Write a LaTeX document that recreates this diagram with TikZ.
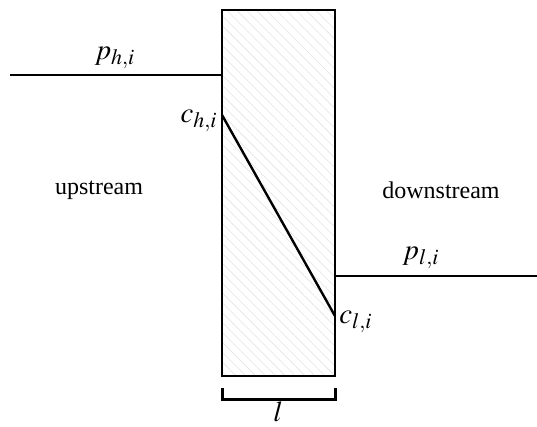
\documentclass[tikz,border=0pt,12pt]{standalone}
\usepackage{mathptmx}
\usepackage{fontspec}
\setmainfont{Liberation Serif}
\usepackage{tikz}
\usetikzlibrary{patterns.meta, positioning}

\tikzset{
    flow/.style={line width=1.2pt},
    wall/.style={draw, line width=0.6pt, pattern={Lines[angle=-45, distance=3.5pt, line width=0.3pt]}, pattern color=gray!22},
    qty/.style={font=\large},
}

\begin{document}
\begin{tikzpicture}[x=0.5pt, y=-0.5pt]
        \useasboundingbox (0,0) rectangle (537,427);
        \coordinate (wtl) at (222,10); % membrane corners
        \coordinate (wbr) at (335,376);
        \draw[wall] (wtl) rectangle (wbr);

        \coordinate (ph0) at (10,75);
        \coordinate (ph1) at (222,75);
        \coordinate (pl0) at (335,276);
        \coordinate (pl1) at (537,276);
        \coordinate (ch) at (222,115);
        \coordinate (cl) at (335,316);
        \draw[flow] (ph0) -- (ph1);
        \draw[flow] (pl0) -- (pl1);
        \draw[flow] (ch) -- (cl);

        \coordinate (b0) at (222,388); % thickness bracket
        \coordinate (b1) at (335,388);
        \draw[line width=1.5pt] (b0) -- ++(0,12) -| (b1);

        \node[qty] (phlab) at (115,58) {$p_{h,i}$};
        \node[qty] (chlab) at (199,121) {$c_{h,i}$};
        \node[qty] (pllab) at (421,258) {$p_{l,i}$};
        \node[qty] (cllab) at (356,322) {$c_{l,i}$};
        \node[qty] (llab) at (278,412) {$l$};
        \node (up) at (99,190) {upstream};
        \node (down) at (441,190) {downstream};
\end{tikzpicture}
\end{document}
